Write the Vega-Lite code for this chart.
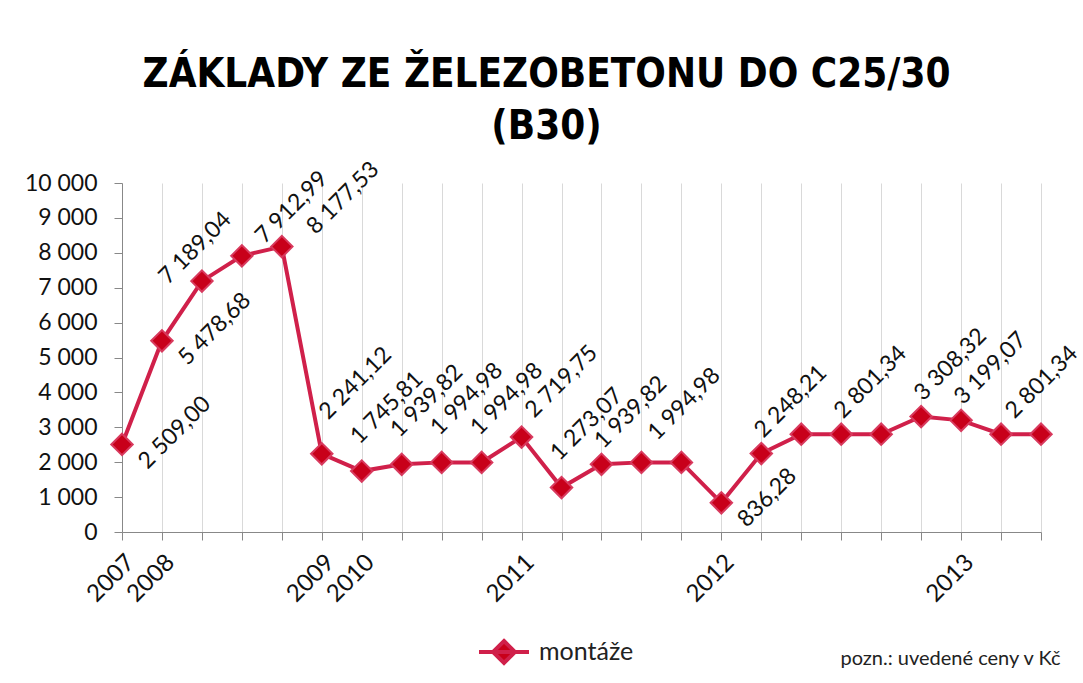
{
  "$schema": "https://vega.github.io/schema/vega-lite/v6.json",
  "width": 919,
  "height": 349,
  "autosize": "none",
  "padding": {"left": 122, "top": 183, "right": 42, "bottom": 151},
  "background": "white",
  "config": {
    "locale": {"number": {"decimal": ",", "thousands": " ", "grouping": [3], "currency": ["", " Kč"]}},
    "view": {"stroke": null},
    "font": "Lato"
  },
  "title": {
    "text": ["ZÁKLADY ZE ŽELEZOBETONU DO C25/30", "(B30)"],
    "font": "'DejaVu Sans Condensed', 'DejaVu Sans', Lato",
    "fontSize": 40,
    "fontWeight": "bold",
    "color": "#000000",
    "anchor": "middle",
    "dx": -35,
    "lineHeight": 52,
    "offset": 11
  },
  "data": {
    "values": [
      {"idx": 0, "value": 2509.00},
      {"idx": 1, "value": 5478.68},
      {"idx": 2, "value": 7189.04},
      {"idx": 3, "value": 7912.99},
      {"idx": 4, "value": 8177.53},
      {"idx": 5, "value": 2241.12},
      {"idx": 6, "value": 1745.81},
      {"idx": 7, "value": 1939.82},
      {"idx": 8, "value": 1994.98},
      {"idx": 9, "value": 1994.98},
      {"idx": 10, "value": 2719.75},
      {"idx": 11, "value": 1273.07},
      {"idx": 12, "value": 1939.82},
      {"idx": 13, "value": 1994.98},
      {"idx": 14, "value": 1994.98},
      {"idx": 15, "value": 836.28},
      {"idx": 16, "value": 2248.21},
      {"idx": 17, "value": 2801.34},
      {"idx": 18, "value": 2801.34},
      {"idx": 19, "value": 2801.34},
      {"idx": 20, "value": 3308.32},
      {"idx": 21, "value": 3199.07},
      {"idx": 22, "value": 2801.34},
      {"idx": 23, "value": 2801.34}
    ]
  },
  "encoding": {
    "x": {
      "field": "idx",
      "type": "quantitative",
      "scale": {"domain": [0, 23], "nice": false, "zero": false},
      "axis": {
        "values": [0,1,2,3,4,5,6,7,8,9,10,11,12,13,14,15,16,17,18,19,20,21,22,23],
        "labelExpr": "['2007','2008','','','','2009','2010','','','','2011','','','','','2012','','','','','','2013','',''][datum.value]",
        "labelAngle": -45,
        "labelOverlap": false,
        "labelFlush": false,
        "labelFontSize": 24,
        "labelColor": "#111111",
        "labelPadding": 10,
        "grid": true,
        "gridColor": "#d9d9d9",
        "gridWidth": 1,
        "tickColor": "#888888",
        "domainColor": "#888888",
        "tickSize": 8,
        "title": "pozn.: uvedené ceny v Kč",
        "titleX": 938,
        "titleY": 132,
        "titleAlign": "right",
        "titleAnchor": "end",
        "titleBaseline": "alphabetic",
        "titleFontSize": 20,
        "titleFontWeight": "normal",
        "titleColor": "#222222"
      }
    },
    "y": {
      "field": "value",
      "type": "quantitative",
      "scale": {"domain": [0, 10000], "nice": false},
      "axis": {
        "values": [0,1000,2000,3000,4000,5000,6000,7000,8000,9000,10000],
        "format": ",.0f",
        "grid": false,
        "tickSize": 8,
        "tickColor": "#888888",
        "domainColor": "#888888",
        "labelFontSize": 23,
        "labelPadding": 17,
        "labelColor": "#111111",
        "title": null
      }
    }
  },
  "layer": [
    {
      "mark": {"type": "line", "strokeWidth": 4},
      "encoding": {
        "color": {
          "datum": "montáže",
          "type": "nominal",
          "scale": {"range": ["#d0204a"]},
          "legend": {
            "title": null,
            "orient": "none",
            "legendX": 355,
            "legendY": 442,
            "direction": "horizontal",
            "symbolType": "M-1,0L1,0M0,-0.44L0.44,0L0,0.44L-0.44,0Z",
            "symbolSize": 2500,
            "symbolStrokeWidth": 4,
            "labelFontSize": 25,
            "labelColor": "#222222",
            "labelOffset": 8,
            "encode": {"symbols": {"update": {"fill": {"value": "#c8001a"}, "stroke": {"value": "#d0204a"}}}}
          }
        }
      }
    },
    {
      "mark": {"type": "point", "shape": "diamond", "filled": true, "size": 460, "fill": "#c8001a", "stroke": "#d83a5e", "strokeWidth": 2, "opacity": 1}
    },
    {
      "transform": [{"filter": {"field": "idx", "oneOf": [6,7,8,9,11]}}],
      "mark": {"type": "text", "angle": -45, "align": "left", "baseline": "alphabetic", "dx": 17, "dy": -20, "fontSize": 23, "color": "#111111"},
      "encoding": {"text": {"field": "value", "type": "quantitative", "format": ",.2f"}}
    },
    {
      "transform": [{"filter": {"field": "idx", "oneOf": [5]}}],
      "mark": {"type": "text", "angle": -45, "align": "left", "baseline": "alphabetic", "dx": 28, "dy": -19, "fontSize": 23, "color": "#111111"},
      "encoding": {"text": {"field": "value", "type": "quantitative", "format": ",.2f"}}
    },
    {
      "transform": [{"filter": {"field": "idx", "oneOf": [10]}}],
      "mark": {"type": "text", "angle": -45, "align": "left", "baseline": "alphabetic", "dx": 22, "dy": -4, "fontSize": 23, "color": "#111111"},
      "encoding": {"text": {"field": "value", "type": "quantitative", "format": ",.2f"}}
    },
    {
      "transform": [{"filter": {"field": "idx", "oneOf": [13]}}],
      "mark": {"type": "text", "angle": -45, "align": "left", "baseline": "alphabetic", "dx": 26, "dy": -4, "fontSize": 23, "color": "#111111"},
      "encoding": {"text": {"field": "value", "type": "quantitative", "format": ",.2f"}}
    },
    {
      "transform": [{"filter": {"field": "idx", "oneOf": [12,16,18,20,21]}}],
      "mark": {"type": "text", "angle": -45, "align": "left", "baseline": "alphabetic", "dx": 12, "dy": -9, "fontSize": 23, "color": "#111111"},
      "encoding": {"text": {"field": "value", "type": "quantitative", "format": ",.2f"}}
    },
    {
      "transform": [{"filter": {"field": "idx", "oneOf": [22]}}],
      "mark": {"type": "text", "angle": -45, "align": "left", "baseline": "alphabetic", "dx": 20, "dy": -1, "fontSize": 23, "color": "#111111"},
      "encoding": {"text": {"field": "value", "type": "quantitative", "format": ",.2f"}}
    },
    {
      "transform": [{"filter": {"field": "idx", "oneOf": [0,1,15]}}],
      "mark": {"type": "text", "angle": -45, "align": "left", "baseline": "alphabetic", "dx": 0, "dy": 36, "fontSize": 23, "color": "#111111"},
      "encoding": {"text": {"field": "value", "type": "quantitative", "format": ",.2f"}}
    },
    {
      "transform": [{"filter": {"field": "idx", "oneOf": [2]}}],
      "mark": {"type": "text", "angle": -45, "align": "left", "baseline": "alphabetic", "dx": -27, "dy": -21, "fontSize": 23, "color": "#111111"},
      "encoding": {"text": {"field": "value", "type": "quantitative", "format": ",.2f"}}
    },
    {
      "transform": [{"filter": {"field": "idx", "oneOf": [3]}}],
      "mark": {"type": "text", "angle": -45, "align": "left", "baseline": "alphabetic", "dx": 24, "dy": 8, "fontSize": 23, "color": "#111111"},
      "encoding": {"text": {"field": "value", "type": "quantitative", "format": ",.2f"}}
    },
    {
      "transform": [{"filter": {"field": "idx", "oneOf": [4]}}],
      "mark": {"type": "text", "angle": -45, "align": "left", "baseline": "alphabetic", "dx": 32, "dy": 16, "fontSize": 23, "color": "#111111"},
      "encoding": {"text": {"field": "value", "type": "quantitative", "format": ",.2f"}}
    }
  ]
}
